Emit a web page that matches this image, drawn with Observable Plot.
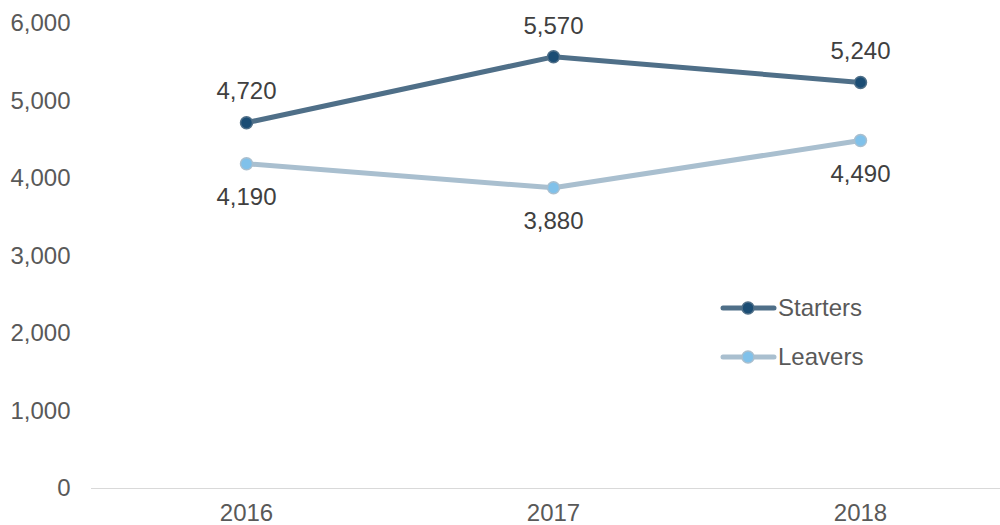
<!DOCTYPE html>
<html>
<head>
<meta charset="utf-8">
<script src="https://cdn.jsdelivr.net/npm/d3@7"></script>
<script src="https://cdn.jsdelivr.net/npm/@observablehq/plot@0.6"></script>
<style>
  html, body { margin: 0; padding: 0; background: #fff; }
  #wrap { position: relative; width: 1000px; height: 525px; font-family: "Liberation Sans", Arial, sans-serif; }
  #legend { position: absolute; left: 719px; top: 290px; font-size: 24px; color: #595959; }
  .item { display: flex; align-items: center; height: 36px; margin-bottom: 13px; }
  .item svg { margin-right: 1px; }
</style>
</head>
<body>
<div id="wrap"></div>
<script>
const years = ["2016", "2017", "2018"];
const starters = [4720, 5570, 5240];
const leavers = [4190, 3880, 4490];
const yTicks = [0, 1000, 2000, 3000, 4000, 5000, 6000];
const seriesNames = ["Starters", "Leavers"];
const lineColors = ["#4f6f88", "#a9bfcf"];
const dotColors = ["#1b4d74", "#80c1ea"];
const dotStrokes = ["#4f6f88", "#a9bfcf"];

const rows = [];
years.forEach((y, i) => {
  rows.push({year: y, value: starters[i], series: seriesNames[0]});
  rows.push({year: y, value: leavers[i], series: seriesNames[1]});
});
const S = rows.filter(d => d.series === "Starters");
const L = rows.filter(d => d.series === "Leavers");
const fmt = d3.format(",");

const chart = Plot.plot({
  width: 1000,
  height: 525,
  marginTop: 23,
  marginBottom: 37,
  marginLeft: 91,
  marginRight: 0,
  style: {fontFamily: "'Liberation Sans', Arial, sans-serif", fontSize: "24px", color: "#595959", background: "transparent"},
  x: {type: "point", domain: years, range: [91, 1014], padding: 0.5, label: null},
  y: {domain: [0, 6000], ticks: yTicks, tickFormat: fmt, label: null},
  marks: [
    Plot.ruleY([0], {stroke: "#d9d9d9", strokeWidth: 1}),
    Plot.axisY({ticks: yTicks, tickFormat: fmt, tickSize: 0, tickPadding: 21, fontSize: 24, fill: "#595959", label: null}),
    Plot.axisX({tickSize: 0, tickPadding: 15, fontSize: 24, fill: "#595959", label: null}),
    Plot.line(L, {x: "year", y: "value", stroke: lineColors[1], strokeWidth: 5}),
    Plot.line(S, {x: "year", y: "value", stroke: lineColors[0], strokeWidth: 5}),
    Plot.dot(L, {x: "year", y: "value", r: 6, fill: dotColors[1], stroke: dotStrokes[1], strokeWidth: 1.5}),
    Plot.dot(S, {x: "year", y: "value", r: 6, fill: dotColors[0], stroke: dotStrokes[0], strokeWidth: 1.5}),
    Plot.text(S, {x: "year", y: "value", text: d => fmt(d.value), dy: -31, fontSize: 24, fill: "#404040"}),
    Plot.text(L, {x: "year", y: "value", text: d => fmt(d.value), dy: 34, fontSize: 24, fill: "#404040"})
  ]
});
const wrap = document.getElementById("wrap");
wrap.appendChild(chart);

const legend = document.createElement("div");
legend.id = "legend";
seriesNames.forEach((name, i) => {
  const item = document.createElement("div");
  item.className = "item";
  item.innerHTML = `<svg width="58" height="14"><line x1="4" y1="7" x2="55" y2="7" stroke="${lineColors[i]}" stroke-width="5" stroke-linecap="round"/><circle cx="29" cy="7" r="6" fill="${dotColors[i]}" stroke="${dotStrokes[i]}" stroke-width="1.5"/></svg><span>${name}</span>`;
  legend.appendChild(item);
});
wrap.appendChild(legend);
</script>
</body>
</html>
